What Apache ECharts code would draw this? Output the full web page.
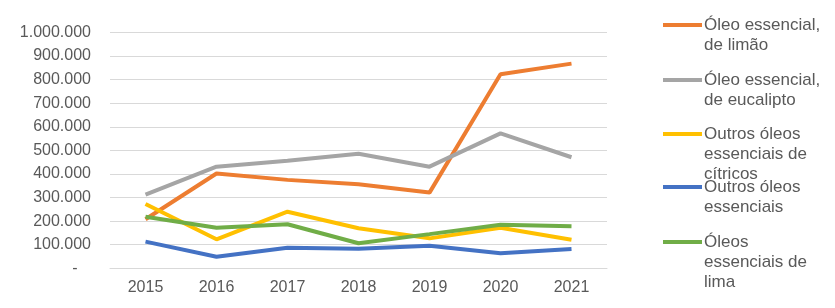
<!DOCTYPE html>
<html>
<head>
<meta charset="utf-8">
<script src="https://cdn.jsdelivr.net/npm/echarts@6/dist/echarts.min.js"></script>
<style>
  html, body { margin: 0; padding: 0; background: #fff; }
  #chart { width: 835px; height: 308px; }
</style>
</head>
<body>
<div id="chart"></div>
<script>
// anos
const years = ['2015', '2016', '2017', '2018', '2019', '2020', '2021'];

// séries
const oleoLimao     = [208000, 402000, 375000, 356000, 321000, 823000, 868000];
const oleoEucalipto = [312000, 431000, 456000, 486000, 431000, 572000, 471000];
const outrosCitricos = [273000, 123000, 240000, 170000, 127000, 172000, 121000];
const outrosOleos   = [113000, 49000, 87000, 83000, 96000, 64000, 82000];
const oleosLima     = [219000, 172000, 187000, 106000, 145000, 185000, 178000];

const names = [
    'Óleo essencial,\nde limão',
    'Óleo essencial,\nde eucalipto',
    'Outros óleos\nessenciais de\ncítricos',
    'Outros óleos\nessenciais',
    'Óleos\nessenciais de\nlima'
];
const colors = ['#ED7D31', '#A5A5A5', '#FFC000', '#4472C4', '#70AD47'];
const seriesData = [oleoLimao, oleoEucalipto, outrosCitricos, outrosOleos, oleosLima];

const chart = echarts.init(document.getElementById('chart'));

const fmt = v => v === 0 ? '-   ' : String(v).replace(/\B(?=(\d{3})+(?!\d))/g, '.');

// posições das legendas (uma por item, para alinhar com a 1a linha do texto)
const legendTops = [-5, 50, 84, 157, 192];

const legends = names.map((n, i) => {
    const lines = n.split('\n').length;
    return {
        data: [n],
        orient: 'vertical',
        left: 663,
        top: legendTops[i],
        icon: 'rect',
        itemWidth: 39,
        itemHeight: 4,
        itemGap: 0,
        padding: 0,
        selectedMode: false,
        formatter: name => '\n'.repeat(lines - 1) + name,
        textStyle: {
            fontFamily: 'Liberation Sans',
            fontSize: 17,
            lineHeight: 20,
            color: '#595959',
            padding: [0, 0, 0, -3]
        }
    };
});

chart.setOption({
    animation: false,
    legend: legends,
    grid: {
        left: 110,
        right: 228,
        top: 32.5,
        bottom: 39.7
    },
    xAxis: {
        type: 'category',
        data: years,
        boundaryGap: true,
        axisLine: { show: true, lineStyle: { color: '#D9D9D9', width: 1 } },
        axisTick: { show: false },
        axisLabel: {
            fontFamily: 'Liberation Sans',
            fontSize: 16,
            color: '#595959',
            margin: 11
        }
    },
    yAxis: {
        type: 'value',
        min: 0,
        max: 1000000,
        interval: 100000,
        axisLine: { show: false },
        axisTick: { show: false },
        splitLine: { lineStyle: { color: '#D9D9D9', width: 1 } },
        axisLabel: {
            fontFamily: 'Liberation Sans',
            fontSize: 16,
            color: '#595959',
            margin: 19,
            formatter: fmt
        }
    },
    series: names.map((n, i) => ({
        name: n,
        type: 'line',
        data: seriesData[i],
        symbol: 'none',
        itemStyle: { color: colors[i] },
        lineStyle: { width: 4, color: colors[i] }
    }))
});
</script>
</body>
</html>
